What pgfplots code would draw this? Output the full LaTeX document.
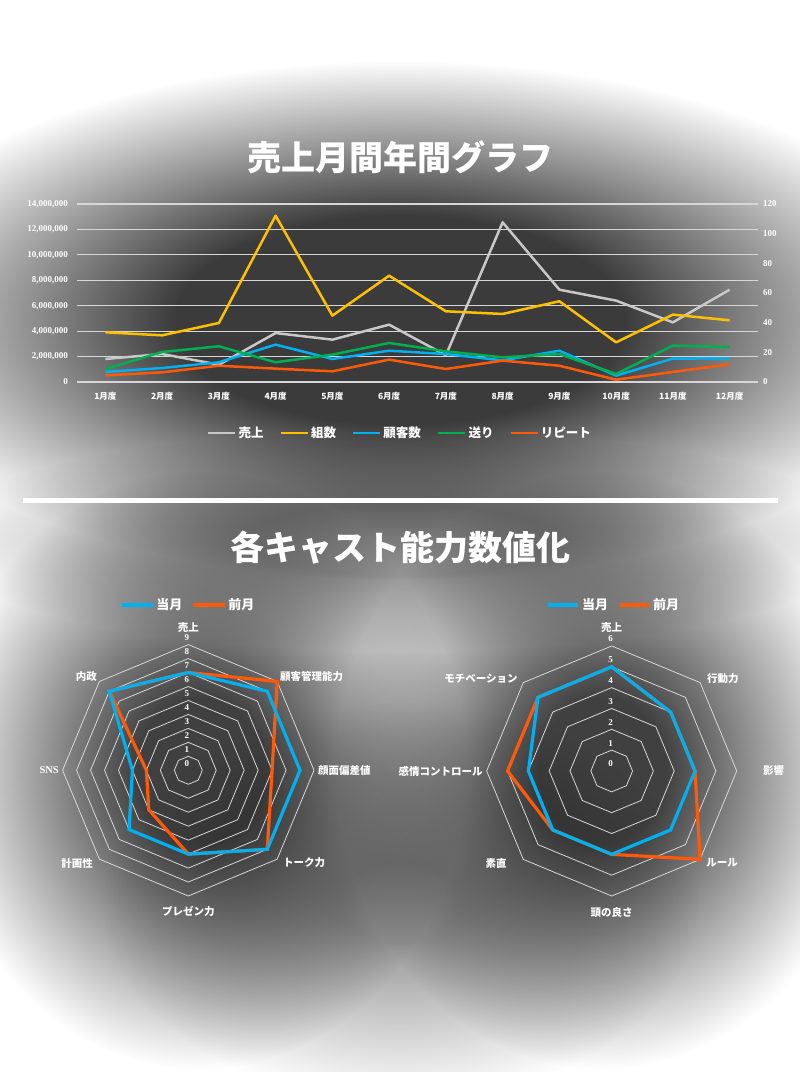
\documentclass[border=0pt]{standalone}
\usepackage{fontspec}
\setmainfont{Liberation Serif}
\newfontfamily\jp{Noto Sans CJK JP}
\usepackage{pgfplots}
\usepackage{pgfplotstable}
\pgfplotsset{compat=1.18}
\definecolor{cGray}{RGB}{200,200,200}
\definecolor{cYel}{RGB}{255,192,0}
\definecolor{cBlue}{RGB}{0,176,240}
\definecolor{cGreen}{RGB}{0,176,80}
\definecolor{cOrg}{RGB}{255,90,10}
\definecolor{cGrid}{RGB}{215,215,215}
\pgfdeclareradialshading{glowTop}{\pgfpoint{0bp}{0bp}}{color(0bp)=(black!77); color(10bp)=(black!77); color(25bp)=(white); color(50bp)=(white)}
\pgfdeclareradialshading{glowRad}{\pgfpoint{0bp}{0bp}}{color(0bp)=(black!75); color(6bp)=(black!75); color(25bp)=(white); color(50bp)=(white)}
\pgfdeclareradialshading{glowMid}{\pgfpoint{0bp}{0bp}}{color(0bp)=(black!40); color(8bp)=(black!40); color(25bp)=(white); color(50bp)=(white)}
\pgfdeclareradialshading{glowBot}{\pgfpoint{0bp}{0bp}}{color(0bp)=(black!40); color(5bp)=(black!40); color(25bp)=(white); color(50bp)=(white)}

\pgfplotstableread{
m uriage kumi kokyaku okuri rep
1 1810000 3910000 790000 1020000 520000
2 2200000 3670000 1100000 2360000 760000
3 1360000 4640000 1550000 2810000 1280000
4 3850000 13080000 2940000 1550000 1050000
5 3330000 5220000 1810000 2150000 840000
6 4510000 8360000 2460000 3070000 1760000
7 2100000 5560000 2200000 2410000 1020000
8 12560000 5350000 1700000 1940000 1680000
9 7260000 6350000 2460000 2200000 1280000
10 6400000 3120000 500000 630000 180000
11 4690000 5300000 1840000 2860000 790000
12 7260000 4850000 1860000 2750000 1390000
}\salesdata

\begin{document}
\begin{tikzpicture}
\path[use as bounding box] (0pt,0pt) rectangle (800pt,1072pt);
\fill[white] (0pt,0pt) rectangle (800pt,1072pt);
\begin{scope}[blend mode=multiply]
\shade[shading=glowTop] (400pt,752pt) ellipse (560pt and 260pt);
\shade[shading=glowMid] (400pt,532pt) ellipse (480pt and 110pt);
\shade[shading=glowRad] (200pt,302pt) ellipse (265pt and 300pt);
\shade[shading=glowRad] (602pt,302pt) ellipse (265pt and 300pt);
\shade[shading=glowBot] (400pt,170pt) ellipse (300pt and 200pt);
\end{scope}

% titles and separator
\node[text=white, font=\jp\bfseries\fontsize{34}{40}\selectfont] at (400pt,915pt) {売上月間年間グラフ};
\node[text=white, font=\jp\bfseries\fontsize{34}{40}\selectfont] at (400pt,524pt) {各キャスト能力数値化};
\draw[white, line width=5pt] (23pt,571pt) -- (778pt,571pt);

% ---------- line chart ----------
\begin{axis}[
  at={(77pt,690pt)}, anchor=south west, scale only axis, width=681pt, height=178pt,
  xmin=0.5, xmax=12.5, ymin=0, ymax=14000000,
  xtick={1,2,3,4,5,6,7,8,9,10,11,12},
  xticklabels={1月度,2月度,3月度,4月度,5月度,6月度,7月度,8月度,9月度,10月度,11月度,12月度},
  ytick={0,2000000,4000000,6000000,8000000,10000000,12000000,14000000},
  scaled y ticks=false,
  /pgf/number format/assume math mode=true,
  /pgf/number format/fixed, /pgf/number format/precision=0,
  /pgf/number format/1000 sep={,},
  yticklabel style={text=white, font=\bfseries\fontsize{9}{10}\selectfont, inner sep=0pt, xshift=-9pt},
  xticklabel style={text=white, font=\jp\bfseries\fontsize{8.5}{9}\selectfont, inner sep=0pt, yshift=-10pt},
  ymajorgrids, major grid style={cGrid, line width=1.2pt},
  axis line style={draw=none}, major tick length=0pt, tick style={draw=none},
  legend columns=5,
  legend style={at={(0.4743,-0.2865)}, anchor=center, draw=none, fill=none, text=white,
    font=\jp\bfseries\fontsize{12.5}{14}\selectfont, inner sep=0pt,
    /tikz/every even column/.append style={column sep=14pt}},
  legend image code/.code={\draw[#1] (0pt,0pt) -- (27pt,0pt);},
]
\addplot[cGray, line width=2.5pt, line join=round] table[x=m, y=uriage]{\salesdata};
\addlegendentry{売上}
\addplot[cYel, line width=2.5pt, line join=round] table[x=m, y=kumi]{\salesdata};
\addlegendentry{組数}
\addplot[cBlue, line width=2.5pt, line join=round] table[x=m, y=kokyaku]{\salesdata};
\addlegendentry{顧客数}
\addplot[cGreen, line width=2.5pt, line join=round] table[x=m, y=okuri]{\salesdata};
\addlegendentry{送り}
\addplot[cOrg, line width=2.5pt, line join=round] table[x=m, y=rep]{\salesdata};
\addlegendentry{リピート}
\end{axis}
\begin{axis}[
  at={(77pt,690pt)}, anchor=south west, scale only axis, width=681pt, height=178pt,
  xmin=0.5, xmax=12.5, ymin=0, ymax=120,
  axis y line*=right, axis x line=none,
  ytick={0,20,40,60,80,100,120},
  /pgf/number format/assume math mode=true,
  yticklabel style={text=white, font=\bfseries\fontsize{9}{10}\selectfont, inner sep=0pt, xshift=5pt},
  axis line style={draw=none}, major tick length=0pt, tick style={draw=none},
]
\addplot[draw=none] coordinates {(1,0)};
\end{axis}

% ---------- left radar ----------
\begin{axis}[
  at={(188.3pt,301.7pt)}, anchor=origin, scale only axis, width=293.3pt, height=293.3pt,
  xmin=-10.5, xmax=10.5, ymin=-10.5, ymax=10.5, hide axis, clip=false,
  legend columns=2,
  legend style={at={(0.5,1.0636)}, anchor=center, draw=none, fill=none, text=white,
    font=\jp\bfseries\fontsize{13}{15}\selectfont, inner sep=0pt,
    /tikz/every even column/.append style={column sep=8pt}},
  legend image code/.code={\draw[#1] (0pt,0pt) -- (31pt,0pt);},
]
\addlegendimage{cBlue, line width=3.2pt}\addlegendentry{当月}
\addlegendimage{cOrg, line width=3.2pt}\addlegendentry{前月}
\pgfplotsinvokeforeach{1,...,9}{
  \addplot[cGrid, line width=0.8pt, data cs=polar, forget plot] coordinates {(90,#1)(45,#1)(0,#1)(-45,#1)(-90,#1)(-135,#1)(180,#1)(135,#1)} -- cycle;
}
% 前月
\addplot[cOrg, line width=3.2pt, data cs=polar, forget plot] coordinates {(90,7)(45,9)(0,6)(-45,8)(-90,6)(-135,4)(180,3)(135,8)} -- cycle;
% 当月
\addplot[cBlue, line width=3.2pt, data cs=polar, forget plot] coordinates {(90,7)(45,8)(0,8)(-45,8)(-90,6)(-135,6)(180,4)(135,8)} -- cycle;
\pgfplotsinvokeforeach{0,...,9}{
  \node[text=white, font=\bfseries\fontsize{9}{10}\selectfont, inner sep=0pt, yshift=7pt] at (axis cs:-0.1,#1) {#1};
}
\begin{scope}[every node/.style={text=white, font=\jp\bfseries\fontsize{10.5}{12}\selectfont, inner sep=0pt}]
\node at (axis cs:0,10.2) {売上};
\node[anchor=west] at (axis cs:6.56,6.75) {顧客管理能力};
\node[anchor=west] at (axis cs:9.28,0) {顔面偏差値};
\node[anchor=west] at (axis cs:6.78,-6.64) {トーク力};
\node at (axis cs:0,-10.14) {プレゼン力};
\node[anchor=east] at (axis cs:-6.82,-6.64) {計画性};
\node[anchor=east, font=\bfseries\fontsize{10.5}{12}\selectfont] at (axis cs:-9.26,0) {SNS};
\node[anchor=east] at (axis cs:-6.53,6.75) {内政};
\end{scope}
\end{axis}

% ---------- right radar ----------
\begin{axis}[
  at={(611.7pt,301pt)}, anchor=origin, scale only axis, width=291.7pt, height=291.7pt,
  xmin=-7, xmax=7, ymin=-7, ymax=7, hide axis, clip=false,
  legend columns=2,
  legend style={at={(0.508,1.069)}, anchor=center, draw=none, fill=none, text=white,
    font=\jp\bfseries\fontsize{13}{15}\selectfont, inner sep=0pt,
    /tikz/every even column/.append style={column sep=8pt}},
  legend image code/.code={\draw[#1] (0pt,0pt) -- (30pt,0pt);},
]
\addlegendimage{cBlue, line width=3.2pt}\addlegendentry{当月}
\addlegendimage{cOrg, line width=3.2pt}\addlegendentry{前月}
\pgfplotsinvokeforeach{1,...,6}{
  \addplot[cGrid, line width=0.8pt, data cs=polar, forget plot] coordinates {(90,#1)(45,#1)(0,#1)(-45,#1)(-90,#1)(-135,#1)(180,#1)(135,#1)} -- cycle;
}
% 前月
\addplot[cOrg, line width=3.2pt, data cs=polar, forget plot] coordinates {(90,5)(45,4)(0,4)(-45,6)(-90,4)(-135,4)(180,5)(135,5)} -- cycle;
% 当月
\addplot[cBlue, line width=3.2pt, data cs=polar, forget plot] coordinates {(90,5)(45,4)(0,4)(-45,4)(-90,4)(-135,4)(180,4)(135,5)} -- cycle;
\pgfplotsinvokeforeach{0,...,6}{
  \node[text=white, font=\bfseries\fontsize{9}{10}\selectfont, inner sep=0pt, yshift=7pt] at (axis cs:-0.05,#1) {#1};
}
\begin{scope}[every node/.style={text=white, font=\jp\bfseries\fontsize{10.5}{12}\selectfont, inner sep=0pt}]
\node at (axis cs:0,6.88) {売上};
\node[anchor=west] at (axis cs:4.575,4.42) {行動力};
\node[anchor=west] at (axis cs:7.26,0) {影響};
\node[anchor=west] at (axis cs:4.53,-4.42) {ルール};
\node at (axis cs:0,-6.77) {頭の良さ};
\node[anchor=east] at (axis cs:-5.03,-4.42) {素直};
\node[anchor=east] at (axis cs:-6.18,0) {感情コントロール};
\node[anchor=east] at (axis cs:-4.5,4.42) {モチベーション};
\end{scope}
\end{axis}
\end{tikzpicture}
\end{document}
